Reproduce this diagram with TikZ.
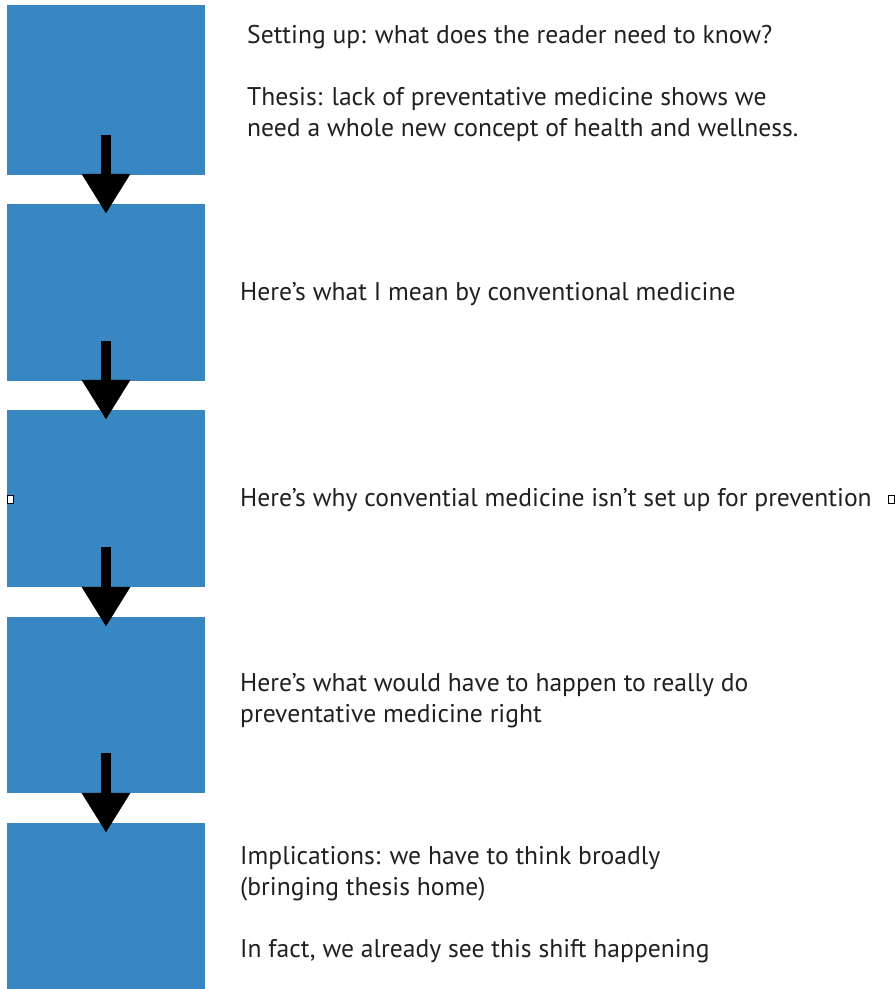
\documentclass[tikz,border=0pt]{standalone}
\usepackage{fontspec}
\setmainfont{PT Sans}
\usetikzlibrary{arrows.meta, positioning}
\definecolor{blockblue}{RGB}{56,134,194}
\definecolor{inkgray}{RGB}{35,31,32}

\begin{document}
\begin{tikzpicture}[x=1pt, y=1pt,
    block/.style = {fill=blockblue, minimum width=198pt, inner sep=0pt},
    note/.style = {anchor=base west, align=left, text=inkgray, inner sep=0pt,
                   font=\fontsize{25.6}{31}\selectfont},
    flow/.style = {line width=10pt, -{Triangle[width=46pt, length=40pt]}},
    handle/.style = {draw, fill=white, line width=0.8pt, minimum width=6pt,
                     minimum height=8pt, inner sep=0pt}]
                \useasboundingbox (0, 0) rectangle (895, -989);

                \node[block, minimum height=170pt] at (106, -90) (b1) {};
                \node[block, minimum height=177pt] at (106, -292.5) (b2) {};
                \node[block, minimum height=177pt] at (106, -498.5) (b3) {};
                \node[block, minimum height=176pt] at (106, -705) (b4) {};
                \node[block, minimum height=166pt] at (106, -906) (b5) {};

                \foreach \src/\dst in {b1/b2, b2/b3, b3/b4, b4/b5}
                    \draw [flow] ([yshift=40pt]\src.south) -- ([yshift=-10pt]\dst.north);

                % multi-line notes sit on the baseline of their last line
                \node[note] at (247, -136) (t1)
                    {Setting up: what does the reader need to know?\\[31pt]
                     Thesis: lack of preventative medicine shows we\\
                     need a whole new concept of health and wellness.};
                \node[note] at (240, -300) (t2)
                    {Here’s what I mean by conventional medicine};
                \node[note] at (240, -506) (t3)
                    {Here’s why convential medicine isn’t set up for prevention};
                \node[note] at (240, -722) (t4)
                    {Here’s what would have to happen to really do\\
                     preventative medicine right};
                \node[note] at (240, -957) (t5)
                    {Implications: we have to think broadly\\
                     (bringing thesis home)\\[31pt]
                     In fact, we already see this shift happening};

                \node[handle] at (10, -499) (hl) {};
                \node[handle] at (891, -499) (hr) {};
\end{tikzpicture}
\end{document}
